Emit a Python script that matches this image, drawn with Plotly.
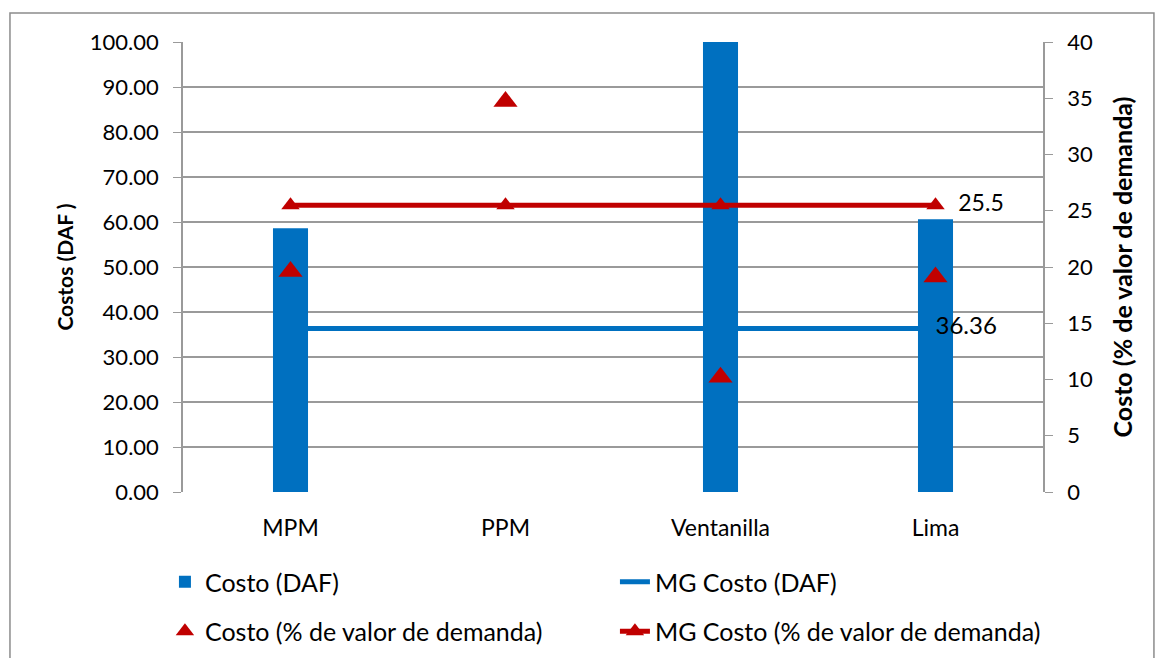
import plotly.graph_objects as go

categories = ["MPM", "PPM", "Ventanilla", "Lima"]
costo_daf = [58.6, None, 100.0, 60.6]
mg_costo_daf = [36.36, 36.36, 36.36, 36.36]
costo_pct = [19.6, 34.7, 10.2, 19.1]
mg_costo_pct = [25.5, 25.5, 25.5, 25.5]

left_ticks = [0, 10, 20, 30, 40, 50, 60, 70, 80, 90, 100]
right_ticks = [0, 5, 10, 15, 20, 25, 30, 35, 40]

BLUE = "#0070C0"
RED = "#C00000"
GRID = "#9a9a9a"
FONT = "Lato, 'Open Sans', sans-serif"

fig = go.Figure()

fig.add_trace(
    go.Bar(
        x=categories,
        y=costo_daf,
        name="Costo (DAF)",
        marker={"color": BLUE, "line": {"width": 0}},
        legend="legend",
    )
)
fig.add_trace(
    go.Scatter(
        x=categories,
        y=mg_costo_daf,
        mode="lines+text",
        name="MG Costo (DAF)",
        line={"color": BLUE, "width": 5},
        text=["", "", "", f"{mg_costo_daf[-1]:.2f}"],
        textposition="middle right",
        textfont={"size": 24, "color": "black", "family": FONT},
        legend="legend",
    )
)
fig.add_trace(
    go.Scatter(
        x=categories,
        y=costo_pct,
        mode="markers",
        name="Costo (% de valor de demanda)",
        marker={"symbol": "triangle-up", "size": 21, "color": RED},
        yaxis="y2",
        legend="legend2",
    )
)
fig.add_trace(
    go.Scatter(
        x=categories,
        y=mg_costo_pct,
        mode="lines+markers+text",
        name="MG Costo (% de valor de demanda)",
        line={"color": RED, "width": 5},
        marker={"symbol": "triangle-up", "size": 16, "color": RED},
        text=["", "", "", f"  {mg_costo_pct[-1]:g}"],
        textposition="middle right",
        textfont={"size": 23, "color": "black", "family": FONT},
        yaxis="y2",
        legend="legend2",
    )
)

legend_common = {
    "orientation": "h",
    "font": {"size": 25, "family": FONT, "color": "black"},
    "entrywidth": 405,
    "entrywidthmode": "pixels",
    "bgcolor": "rgba(0,0,0,0)",
    "xanchor": "left",
    "yanchor": "middle",
}

fig.update_layout(
    width=1155,
    height=658,
    margin={"l": 183, "r": 112, "t": 42, "b": 166, "autoexpand": False},
    paper_bgcolor="white",
    plot_bgcolor="white",
    font={"family": FONT, "size": 22, "color": "black"},
    bargap=0.837,
    xaxis={
        "showgrid": False,
        "showline": False,
        "ticks": "",
        "tickfont": {"size": 23},
        "ticklabelstandoff": 20,
    },
    yaxis={
        "title": {"text": "<b>Costos (DAF )</b>", "font": {"size": 21}, "standoff": 10},
        "range": [0, 100],
        "tickvals": left_ticks,
        "tickformat": ".2f",
        "tickfont": {"size": 22},
        "ticklabelstandoff": 10,
        "showgrid": True,
        "gridcolor": GRID,
        "gridwidth": 1.5,
        "showline": True,
        "linecolor": GRID,
        "linewidth": 1.5,
        "ticks": "outside",
        "ticklen": 8,
        "tickcolor": GRID,
        "zeroline": False,
        "automargin": False,
    },
    yaxis2={
        "title": {"text": "<b>Costo (% de valor de demanda)</b>", "font": {"size": 25}, "standoff": 23},
        "range": [0, 40],
        "tickvals": right_ticks,
        "tickfont": {"size": 22},
        "ticklabelstandoff": 10,
        "overlaying": "y",
        "side": "right",
        "showgrid": False,
        "showline": True,
        "linecolor": GRID,
        "linewidth": 1.5,
        "ticks": "outside",
        "ticklen": 8,
        "tickcolor": GRID,
        "zeroline": False,
        "automargin": False,
    },
    legend={**legend_common, "x": -0.021, "y": -0.2},
    legend2={**legend_common, "x": -0.021, "y": -0.31},
    shapes=[
        {
            "type": "rect",
            "xref": "paper",
            "yref": "paper",
            "x0": -0.2012,
            "x1": 1.129,
            "y0": -0.45,
            "y1": 1.0644,
            "line": {"color": "#8c8c8c", "width": 1.5},
            "fillcolor": "rgba(0,0,0,0)",
            "layer": "below",
        }
    ],
)

# the page body has a default 8px margin; drop it so the figure sits at the origin
fig.write_html(
    "out.html",
    config={"displayModeBar": False},
    post_script="document.body.style.margin = '0';",
)
